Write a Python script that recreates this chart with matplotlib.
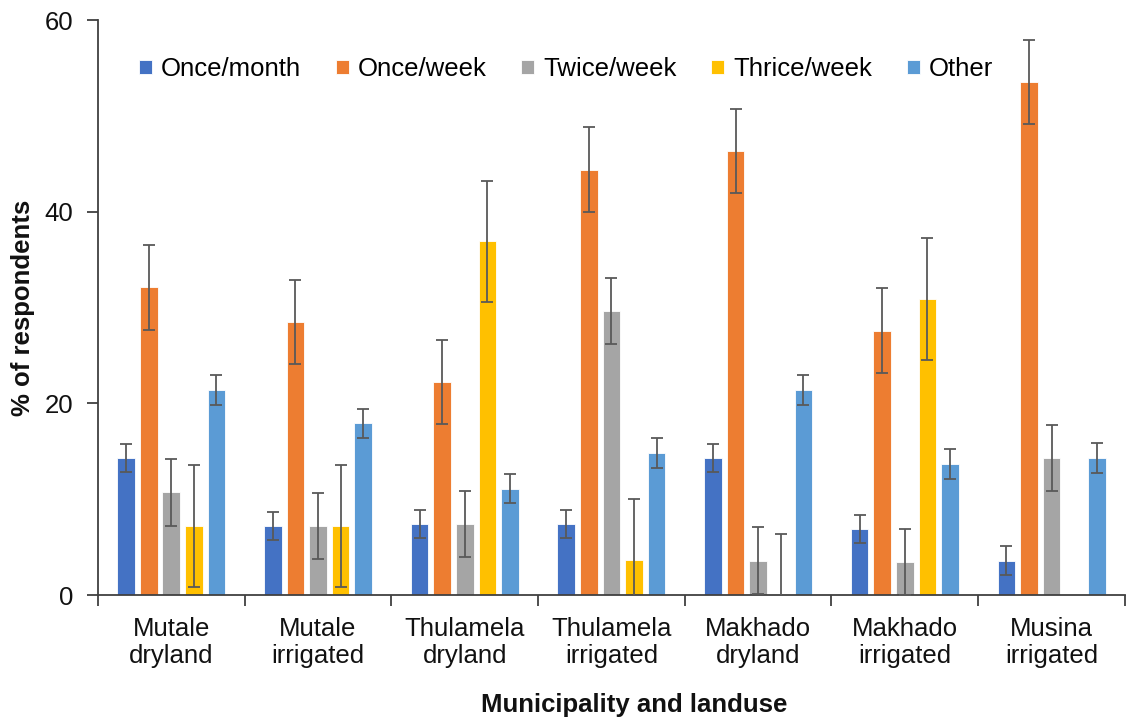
import numpy as np
import matplotlib
matplotlib.use("Agg")
import matplotlib.pyplot as plt

plt.rcParams['font.family'] = ['Liberation Sans', 'DejaVu Sans']

# Groups on the x axis (two line labels)
groups = ["Mutale\ndryland", "Mutale\nirrigated", "Thulamela\ndryland", "Thulamela\nirrigated",
          "Makhado\ndryland", "Makhado\nirrigated", "Musina\nirrigated"]

series_names = ["Once/month", "Once/week", "Twice/week", "Thrice/week", "Other"]
colors = ["#4472C4", "#ED7D31", "#A5A5A5", "#FFC000", "#5B9BD5"]

# % of respondents per frequency
once_month = [14.3, 7.2, 7.4, 7.4, 14.3, 6.9, 3.6]
once_week = [32.1, 28.5, 22.2, 44.4, 46.3, 27.6, 53.5]
twice_week = [10.7, 7.2, 7.4, 29.6, 3.6, 3.4, 14.3]
thrice_week = [7.2, 7.2, 36.9, 3.7, 0.0, 30.9, np.nan]
other = [21.4, 17.9, 11.1, 14.8, 21.4, 13.7, 14.3]

# error bar half widths (same for every group of a series)
err_once_month = 1.5
err_once_week = 4.4
err_twice_week = 3.45
err_thrice_week = 6.35
err_other = 1.55

values = [once_month, once_week, twice_week, thrice_week, other]
errors = [err_once_month, err_once_week, err_twice_week, err_thrice_week, err_other]

fig = plt.figure(figsize=(11.31, 7.2), dpi=100)
ax = fig.add_axes([0.0866, 0.1736, 0.908, 0.7986])

x = np.arange(len(groups))
pitch = 0.154
width = 0.12

for i in range(len(series_names)):
    pos = x + (i - 2) * pitch
    ax.bar(pos, values[i], width, color=colors[i], edgecolor="white", linewidth=0.6,
           label=series_names[i], zorder=2)
    ax.errorbar(pos, values[i], yerr=errors[i], fmt="none", ecolor="#595959",
                elinewidth=1.3, capsize=4.5, capthick=1.3, zorder=3)

ax.set_xlim(-0.5, len(groups) - 0.5)
ax.set_ylim(0, 60)
ax.set_yticks([0, 20, 40, 60])

# ticks between categories, labels in the middle
ax.set_xticks(np.arange(-0.5, len(groups), 1.0))
ax.set_xticklabels([])
ax.set_xticks(x, minor=True)
ax.set_xticklabels(groups, minor=True, fontsize=18.5, color="#111111", linespacing=1.15)
ax.tick_params(axis="x", which="minor", length=0, pad=16)
ax.tick_params(axis="x", which="major", length=8, width=1.3, color="#404040")
ax.tick_params(axis="y", length=8, width=1.3, color="#404040", labelsize=18.5,
               labelcolor="#111111", pad=10)

for s in ["top", "right"]:
    ax.spines[s].set_visible(False)
for s in ["left", "bottom"]:
    ax.spines[s].set_color("#404040")
    ax.spines[s].set_linewidth(1.3)

fig.text(0.0203, 0.573, "% of respondents", rotation=90, ha="center", va="center",
         fontsize=18.5, fontweight="bold", color="#111111")
fig.text(0.5606, 0.0208, "Municipality and landuse", ha="center", va="center",
         fontsize=18.5, fontweight="bold", color="#111111")

fig.legend(loc="center", bbox_to_anchor=(0.5005, 0.904), ncol=5, frameon=False,
           fontsize=18.5, handlelength=0.5, handleheight=0.5, handletextpad=0.35,
           columnspacing=1.35)

plt.savefig("out.png", dpi=100)
